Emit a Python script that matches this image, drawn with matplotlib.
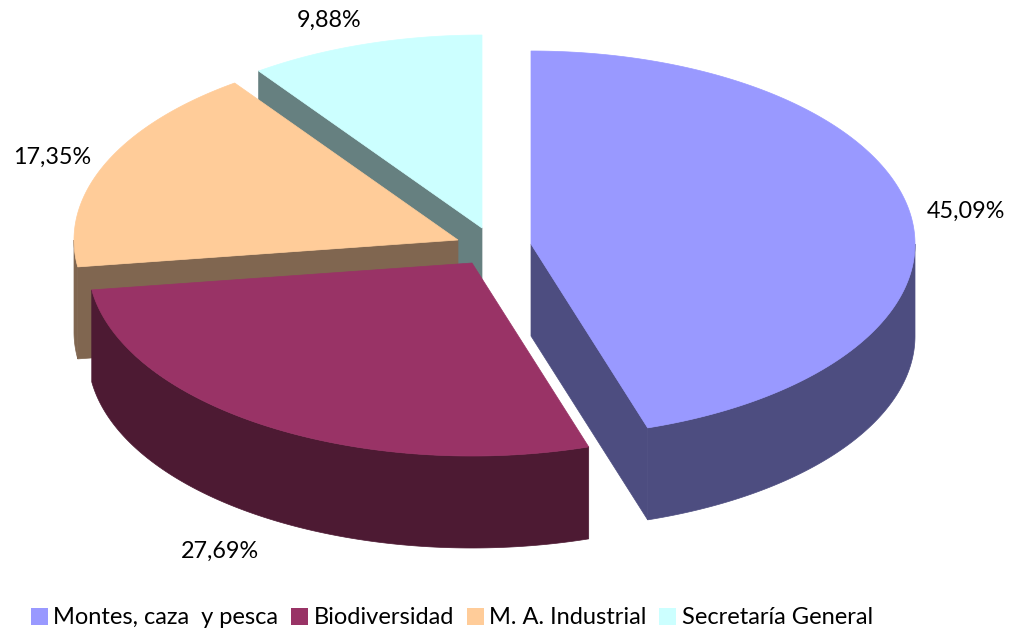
import numpy as np
import matplotlib
matplotlib.use("Agg")
import matplotlib.pyplot as plt
from matplotlib.patches import Polygon, Patch

categories = ["Montes, caza  y pesca", "Biodiversidad", "M. A. Industrial", "Secretaría General"]
values = [45.09, 27.69, 17.35, 9.88]
value_labels = ["45,09%", "27,69%", "17,35%", "9,88%"]
top_colors = ["#9999FF", "#993366", "#FFCC99", "#CCFFFF"]
side_colors = ["#4D4D80", "#4D1A33", "#806650", "#668080"]

# layout in pixels
centers = [(531, 244), (472, 263), (458, 240), (482, 228)]
label_pos = [(966, 211), (220, 551), (52, 157), (329, 20)]
RX, RY, DEPTH = 384, 193, 92

plt.rcParams["font.family"] = ["Lato", "DejaVu Sans"]
fig = plt.figure(figsize=(10.13, 6.29), dpi=100)
ax = fig.add_axes([0, 0, 1, 1])
ax.set_xlim(0, 1013)
ax.set_ylim(629, 0)
ax.axis("off")

def rim(c, t):
    t = np.radians(t)
    return np.column_stack([c[0] + RX * np.sin(t), c[1] - RY * np.cos(t)])

fr = np.array(values) / sum(values) * 360
starts = np.concatenate([[0], np.cumsum(fr)[:-1]])

# painter's order: back slices first
for i in [3, 2, 1, 0]:
    c, t0, t1 = centers[i], starts[i], starts[i] + fr[i]
    down = np.array([0, DEPTH])
    apex = np.array(c, float)
    for t, sign in ((t0, -1), (t1, 1)):
        # cut face is visible only if its normal points toward the viewer
        if np.cos(np.radians(t + sign * 90)) < -1e-6:
            e = rim(c, t)[0]
            ax.add_patch(Polygon([apex, apex + down, e + down, e], fc=side_colors[i], ec=side_colors[i], lw=0.5))
    a, b = max(t0, 90), min(t1, 270)
    if b > a:
        arc = rim(c, np.linspace(a, b, 200))
        ax.add_patch(Polygon(np.vstack([arc, (arc + down)[::-1]]), fc=side_colors[i], ec=side_colors[i], lw=0.5))
    arc = rim(c, np.linspace(t0, t1, 300))
    ax.add_patch(Polygon(np.vstack([apex, arc]), fc=top_colors[i], ec=top_colors[i], lw=0.5))

for (x, y), s in zip(label_pos, value_labels):
    ax.text(x, y, s, ha="center", va="center", fontsize=16.8, color="black")

handles = [Patch(fc=c, ec="none") for c in top_colors]
ax.legend(handles, categories, ncol=4, loc="center", bbox_to_anchor=(452 / 1013, 1 - 618 / 629),
          frameon=False, fontsize=17, handlelength=0.72, handleheight=0.72, handletextpad=0.22,
          columnspacing=0.55, borderpad=0, labelspacing=0)

fig.savefig("out.png", dpi=100)
